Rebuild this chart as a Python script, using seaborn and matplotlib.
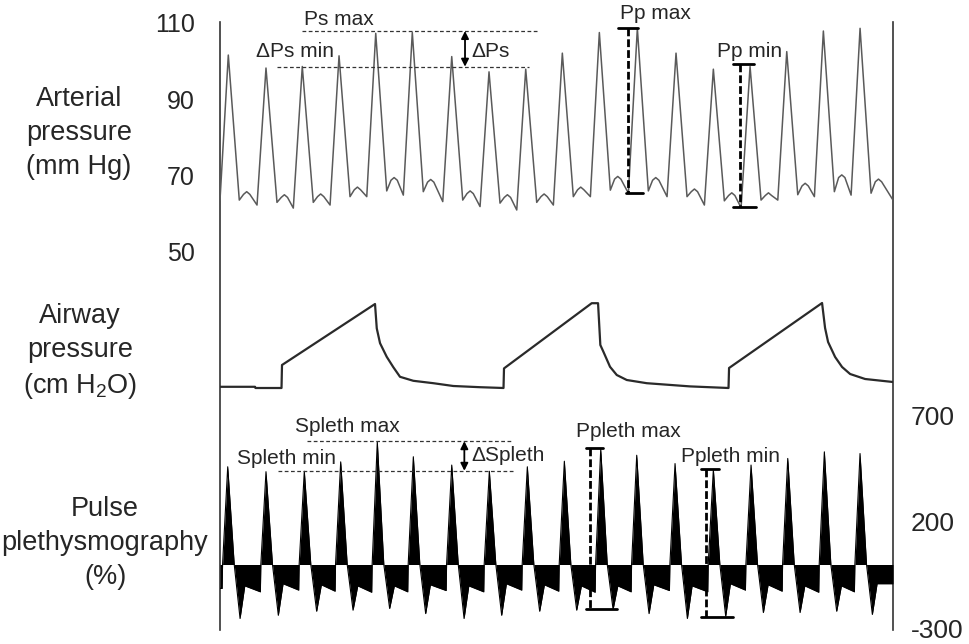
import matplotlib
matplotlib.use("Agg")
import matplotlib.pyplot as plt
import seaborn as sns

# ---- arterial pressure (mm Hg): one entry per heart beat, times in s ----
art_peak_t = [0.185, 1.025, 1.834, 2.653, 3.471, 4.286, 5.165, 5.996, 6.814, 7.630,
              8.455, 9.302, 10.164, 10.996, 11.814, 12.632, 13.448, 14.266]
art_peak = [101.6, 98.2, 98.6, 101.4, 107.3, 107.5, 101.2, 97.2, 97.9, 102.1,
            107.5, 108.6, 102.1, 97.9, 98.6, 102.5, 107.9, 108.6]
art_foot = [63.6, 62.3, 61.5, 62.3, 64.5, 64.9, 63.2, 61.9, 61.0, 62.3,
            64.5, 65.4, 64.5, 62.3, 61.6, 63.6, 64.5, 64.9]
art_notch = [63.6, 63.0, 63.0, 64.5, 66.0, 65.8, 63.6, 62.8, 63.0, 64.5,
             66.2, 66.0, 64.5, 63.4, 63.6, 65.0, 65.8, 65.4]
art_bump = [65.8, 65.0, 65.2, 67.0, 69.5, 69.0, 66.0, 65.0, 65.2, 67.0,
            69.8, 69.5, 66.5, 65.5, 65.5, 68.0, 70.2, 69.1]
art_end = 63.6

# ---- airway pressure (cm H2O), breakpoints of the trace ----
air_t = [0.0, 0.78, 0.79, 1.371, 1.382, 3.455, 3.494, 3.567, 3.716, 3.863, 4.012,
         4.309, 4.755, 5.2, 5.795, 6.319,
         6.33, 8.285, 8.426, 8.477, 8.544, 8.693, 8.843, 9.066, 9.511, 10.476, 11.334,
         11.346, 13.419, 13.486, 13.553, 13.71, 13.865, 14.044, 14.378, 15.0]
air_p = [5.3, 5.3, 5.0, 5.0, 10.75, 26.0, 19.9, 16.2, 12.8, 10.2, 7.8,
         6.8, 6.2, 5.5, 5.2, 5.0,
         9.9, 26.2, 26.2, 15.75, 14.1, 10.3, 8.25, 7.0, 6.2, 5.4, 5.0,
         10.0, 26.25, 20.0, 16.5, 12.75, 10.25, 8.5, 7.25, 6.5]

# ---- pulse plethysmography (%), one entry per beat ----
pl_peak_t = [0.172, 1.025, 1.879, 2.690, 3.506, 4.309, 5.165, 6.003, 6.850, 7.675,
             8.486, 9.288, 10.142, 10.996, 11.836, 12.654, 13.470, 14.265]
pl_peak = [458, 435, 437, 481, 575, 505, 466, 437, 458, 484,
           540, 512, 473, 445, 466, 497, 528, 520]
pl_trough = [-253, -238, -219, -214, -206, -230, -253, -238, -219, -214,
             -210, -230, -253, -242, -225, -225, -219, -234]
pl_shelf_a = [-100, -90, -95, -100, -100, -95, -100, -90, -95, -100,
              -100, -95, -100, -90, -95, -100, -100, -90]
pl_shelf_b = [-128, -120, -125, -130, -128, -122, -128, -120, -125, -130,
              -128, -122, -128, -120, -125, -130, -128, -125]
pl_start, pl_end = -112, -90

# build the traces from the beat tables
at, av = [0.0], [art_foot[0]]
for i in range(len(art_peak_t)):
    p = art_peak_t[i]
    if i > 0:
        at.append(p - 0.20)
        av.append(art_foot[i])
    at += [p, p + 0.245, p + 0.34, p + 0.41, p + 0.48]
    av += [art_peak[i], art_notch[i], art_bump[i] - 0.7, art_bump[i], art_bump[i] - 0.7]
at.append(15.0)
av.append(art_end)

pt, pv = [0.0], [pl_start]
for i in range(len(pl_peak_t)):
    p = pl_peak_t[i]
    prev_shelf = pl_start if i == 0 else pl_shelf_b[i - 1]
    pt += [p - 0.125, p - 0.115, p, p + 0.145, p + 0.275, p + 0.38]
    pv += [prev_shelf, 0, pl_peak[i], 0, pl_trough[i], pl_shelf_a[i]]
pt.append(15.0)
pv.append(pl_end)

sns.set_theme(style="white")
plt.rcParams["font.family"] = ["Liberation Sans", "DejaVu Sans"]
plt.rcParams["mathtext.fontset"] = "custom"
plt.rcParams["mathtext.rm"] = "Liberation Sans"
plt.rcParams["axes.unicode_minus"] = False

W, H = 969, 644
fig = plt.figure(figsize=(W / 100, H / 100), dpi=100)
fig.patch.set_facecolor("white")


def box(top, bottom):
    return [220 / W, 1 - bottom / H, (893 - 220) / W, (bottom - top) / H]


# frame with the two vertical lines
frame = fig.add_axes(box(22, 630))
frame.set_xticks([])
frame.set_yticks([])
for s in ["top", "bottom"]:
    frame.spines[s].set_visible(False)
for s in ["left", "right"]:
    frame.spines[s].set_color("#333333")
    frame.spines[s].set_linewidth(1.2)

ax_art = fig.add_axes(box(22, 260))
ax_air = fig.add_axes(box(290, 400))
ax_pl = fig.add_axes(box(400, 632))
for ax in [ax_art, ax_air, ax_pl]:
    ax.patch.set_alpha(0)
    for s in ax.spines.values():
        s.set_visible(False)
    ax.set_xlim(0, 15)
    ax.set_xticks([])

sns.lineplot(x=at, y=av, ax=ax_art, color="#5a5a5a", lw=1.1, estimator=None, sort=False)
sns.lineplot(x=air_t, y=air_p, ax=ax_air, color="#2a2a2a", lw=1.6, estimator=None, sort=False)
sns.lineplot(x=pt, y=pv, ax=ax_pl, color="black", lw=0.8, estimator=None, sort=False)
ax_pl.fill_between(pt, 0, pv, color="black", lw=0)

ax_art.set_ylim(47.9, 110.26)
ax_art.set_yticks([50, 70, 90, 110])
ax_art.tick_params(axis="y", length=0, pad=18, labelsize=18)
ax_air.set_ylim(2.0, 29.5)
ax_air.set_yticks([])
ax_pl.set_ylim(-316.3, 770.9)
ax_pl.yaxis.tick_right()
ax_pl.set_yticks([700, 200, -300])
ax_pl.tick_params(axis="y", length=0, pad=13, labelsize=19)
for ax in [ax_art, ax_air, ax_pl]:
    ax.set_xlabel("")
    ax.set_ylabel("")

# channel names
fig.text(79 / W, 1 - 133 / H, "Arterial\npressure\n(mm Hg)", ha="center", va="center",
         fontsize=19.5, linespacing=1.42)
fig.text(80 / W, 1 - 352 / H, "Airway\npressure\n(cm H$_\\mathrm{2}$O)", ha="center", va="center",
         fontsize=19.5, linespacing=1.38)
fig.text(105 / W, 1 - 543 / H, "Pulse\nplethysmography\n(%)", ha="center", va="center",
         fontsize=19.5, linespacing=1.42)

thin = dict(color="#333333", lw=0.9, linestyle=(0, (3, 2)))
bold = dict(color="black", lw=2.0, linestyle=(0, (2.8, 1.1)))
bar = dict(color="black", lw=2.0)
arrow = dict(arrowstyle="<|-|>", color="black", lw=1.3, mutation_scale=11, shrinkA=0, shrinkB=0)
fs = 15


def delta_marks(ax, hi, lo, hi_x, lo_x, ax_x, t_hi, t_lo, t_d):
    ax.plot(hi_x, [hi, hi], **thin)
    ax.plot(lo_x, [lo, lo], **thin)
    ax.annotate("", xy=(ax_x, hi), xytext=(ax_x, lo), arrowprops=arrow, annotation_clip=False)
    ax.text(*t_hi, clip_on=False, ha="center", va="center", fontsize=fs)
    ax.text(*t_lo, clip_on=False, ha="center", va="center", fontsize=fs)
    ax.text(*t_d, clip_on=False, ha="left", va="center", fontsize=fs)


def range_marks(ax, x, top, bot, top_bar, bot_bar, label):
    ax.plot([x, x], [top, bot], clip_on=False, **bold)
    ax.plot(top_bar, [top, top], clip_on=False, **bar)
    ax.plot(bot_bar, [bot, bot], clip_on=False, **bar)
    ax.text(*label, clip_on=False, ha="center", va="center", fontsize=fs)


delta_marks(ax_art, 107.9, 98.55, [1.82, 7.095], [1.264, 6.894], 5.461,
            (2.641, 110.9, "Ps max"), (1.672, 102.4, "\u0394Ps min"), (5.61, 102.5, "\u0394Ps"))
range_marks(ax_art, 9.088, 108.8, 65.4, [8.878, 9.324], [9.043, 9.435], (9.714, 112.5, "Pp max"))
range_marks(ax_art, 11.591, 99.2, 61.7, [11.428, 11.903], [11.428, 11.947], (11.796, 102.5, "Pp min"))

delta_marks(ax_pl, 577.8, 439.1, [1.933, 6.538], [1.30, 6.576], 5.446,
            (2.831, 646.7, "Spleth max"), (1.487, 496.7, "Spleth min"), (5.61, 509.4, "\u0394Spleth"))
range_marks(ax_pl, 8.247, 546.9, -209.5, [8.158, 8.544], [8.158, 8.842], (9.106, 621.8, "Ppleth max"))
range_marks(ax_pl, 10.826, 446.6, -245, [10.715, 11.13], [10.715, 11.428], (11.368, 504.7, "Ppleth min"))

fig.savefig("out.png", dpi=100, facecolor="white")
